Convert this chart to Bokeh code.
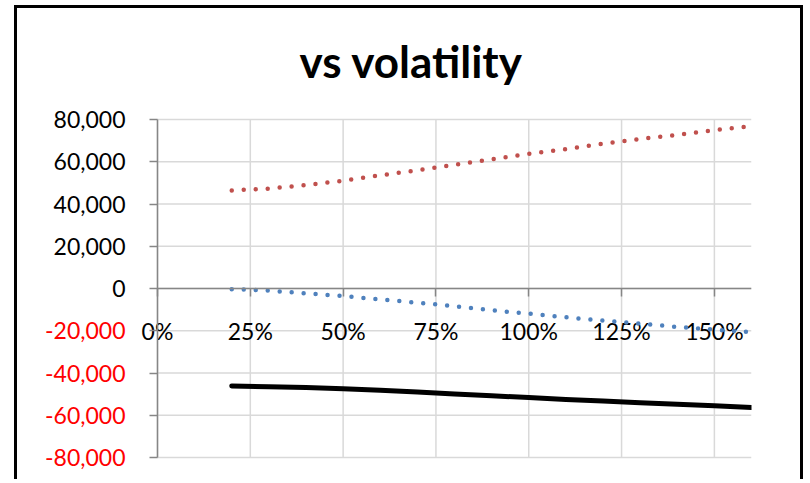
from bokeh.plotting import figure
from bokeh.models import Range1d, FixedTicker, ColumnDataSource
from bokeh.core.properties import value
from bokeh.embed import file_html
from bokeh.resources import INLINE

# ---- data ----
vol = [0.2, 0.3, 0.4, 0.5, 0.6, 0.7, 0.8, 0.9, 1.0, 1.1, 1.2, 1.3, 1.4, 1.5, 1.6]
series_red = [46400, 47300, 49000, 51000, 53600, 55950, 58500, 61200, 63800,
              66000, 68500, 70800, 72700, 75000, 76800]
series_blue = [-300, -1000, -2300, -3600, -5200, -6700, -8400, -10300, -11900,
               -13600, -15200, -16600, -18200, -19500, -20600]
series_black = [-46100, -46500, -46900, -47400, -48200, -49000, -49900, -50800,
                -51650, -52500, -53300, -54100, -54800, -55450, -56300]
x_ticks = [0, 0.25, 0.5, 0.75, 1.0, 1.25, 1.5]
x_tick_labels = ["0%", "25%", "50%", "75%", "100%", "125%", "150%"]
y_ticks = [-80000, -60000, -40000, -20000, 0, 20000, 40000, 60000, 80000]
y_tick_labels = ["-80,000", "-60,000", "-40,000", "-20,000", "0",
                 "20,000", "40,000", "60,000", "80,000"]

X_MIN, X_MAX = 0.0, 1.6
Y_MIN, Y_MAX = -80000, 80000

# ---- layout (pixels) ----
W, H = 789, 474
PLOT_LEFT, PLOT_RIGHT = 140, 734      # canvas px of X_MIN / X_MAX
PLOT_TOP, PLOT_BOTTOM = 111, 449      # canvas px of Y_MAX / Y_MIN
FRAME_LEFT, FRAME_TOP, FRAME_BOTTOM = 20, 100, 464

ux = (X_MAX - X_MIN) / (PLOT_RIGHT - PLOT_LEFT)
uy = (Y_MAX - Y_MIN) / (PLOT_BOTTOM - PLOT_TOP)
x_range = Range1d(X_MIN - (PLOT_LEFT - FRAME_LEFT) * ux, X_MAX)
y_range = Range1d(Y_MIN - (FRAME_BOTTOM - PLOT_BOTTOM) * uy,
                  Y_MAX + (PLOT_TOP - FRAME_TOP) * uy)

FONT = "Lato"
AXIS_GRAY = "#868686"
GRID_GRAY = "#D9D9D9"

p = figure(width=W, height=H, output_backend="svg", toolbar_location=None,
           x_range=x_range, y_range=y_range,
           min_border_left=FRAME_LEFT, min_border_right=W - PLOT_RIGHT,
           min_border_top=FRAME_TOP, min_border_bottom=H - FRAME_BOTTOM,
           title="vs volatility")
p.styles = {"border-top": "3px solid #000", "border-left": "3px solid #000",
            "border-right": "3px solid #000", "margin-left": "14px",
            "margin-top": "5px"}
p.outline_line_color = None
p.background_fill_color = "white"
p.border_fill_color = "white"
p.xgrid.visible = False
p.ygrid.visible = False

p.title.text_font = FONT
p.title.text_font_size = "44px"
p.title.text_font_style = "bold"
p.title.text_color = "#000000"
p.title.align = "left"
p.title.offset = 262
p.title.standoff = 44

# ---- gridlines (within the plot area only) ----
p.segment(x0=[X_MIN] * len(y_ticks), y0=y_ticks, x1=[X_MAX] * len(y_ticks), y1=y_ticks,
          line_color=GRID_GRAY, line_width=1.5)
p.segment(x0=x_ticks, y0=[Y_MIN] * len(x_ticks), x1=x_ticks, y1=[Y_MAX] * len(x_ticks),
          line_color=GRID_GRAY, line_width=1.5)

# ---- axes (x axis crosses at y = 0) ----
yax = p.yaxis[0]
yax.fixed_location = X_MIN
yax.bounds = (Y_MIN, Y_MAX)
yax.ticker = FixedTicker(ticks=y_ticks)
xax = p.xaxis[0]
xax.fixed_location = 0
xax.bounds = (X_MIN, X_MAX)
xax.ticker = FixedTicker(ticks=x_ticks)
for ax, ticks in ((xax, x_ticks), (yax, y_ticks)):
    ax.major_label_overrides = {t: "" for t in ticks}
    ax.major_label_text_font_size = "1px"
    ax.major_label_standoff = 0
    ax.axis_line_color = AXIS_GRAY
    ax.axis_line_width = 1.5
    ax.major_tick_line_color = AXIS_GRAY
    ax.major_tick_line_width = 1.5
    ax.major_tick_out = 8
    ax.major_tick_in = 0
    ax.minor_tick_out = 0
    ax.minor_tick_in = 0

# ---- tick labels ----
ylab = ColumnDataSource(dict(
    x=[X_MIN] * len(y_ticks), y=y_ticks, text=y_tick_labels,
    color=["#FF0000" if t < 0 else "#000000" for t in y_ticks]))
p.text(x="x", y="y", text="text", source=ylab, text_color="color", x_offset=-32,
       text_align="right", text_baseline="middle", text_font=value(FONT),
       text_font_size="23px")
xlab = ColumnDataSource(dict(x=x_ticks, y=[0] * len(x_ticks), text=x_tick_labels))
p.text(x="x", y="y", text="text", source=xlab, text_color="#000000", y_offset=42,
       text_align="center", text_baseline="middle", text_font=value(FONT),
       text_font_size="23px")

# ---- series ----
p.line(vol, series_blue, line_color="#4F81BD", line_width=4.5, line_dash="0 12",
       line_cap="round")
p.line(vol, series_red, line_color="#C0504D", line_width=4.5, line_dash="0 12",
       line_cap="round")
p.line(vol, series_black, line_color="#000000", line_width=5, line_cap="round",
       line_join="round")

open("out.html", "w").write(file_html(p, INLINE))
